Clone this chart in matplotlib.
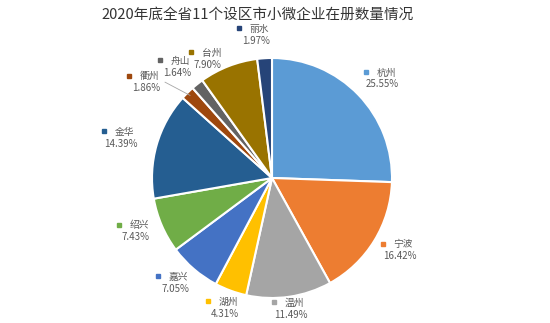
import numpy as np
import matplotlib
matplotlib.use('Agg')
import matplotlib.pyplot as plt

plt.rcParams['font.family'] = ['Noto Sans CJK SC', 'DejaVu Sans']

# 数据
cities = ['杭州', '宁波', '温州', '湖州', '嘉兴', '绍兴', '金华', '衢州', '舟山', '台州', '丽水']
shares = [25.55, 16.42, 11.49, 4.31, 7.05, 7.43, 14.39, 1.86, 1.64, 7.90, 1.97]

colors = ['#5B9BD5', '#ED7D31', '#A5A5A5', '#FFC000', '#4472C4', '#70AD47',
          '#255E91', '#9E480E', '#636363', '#997300', '#264478']

# 标签距离和角度偏移 (样式)
label_dist = [1.24, 1.22, 1.10, 1.15, 1.19, 1.22, 1.30, 1.32, 1.22, 1.13, 1.20]
label_shift = [-2, 2, 0, 0, -2, -2, 1, 8, 2, 7, 3]

W, H = 550, 323
fig = plt.figure(figsize=(W / 100, H / 100), dpi=100)
cx, cy, r = 272, 178, 120
size = 300
ax = fig.add_axes([(cx - size / 2) / W, (H - cy - size / 2) / H, size / W, size / H])
ax.set_xlim(-1.25, 1.25)
ax.set_ylim(-1.25, 1.25)
ax.axis('off')

wedges, _ = ax.pie(shares, colors=colors, startangle=90, counterclock=False,
                   radius=1, wedgeprops=dict(edgecolor='white', linewidth=1.5))

for i, w in enumerate(wedges):
    ang = (w.theta1 + w.theta2) / 2 + label_shift[i]
    d = label_dist[i]
    x = d * np.cos(np.radians(ang))
    y = d * np.sin(np.radians(ang))
    ax.text(x + 0.03, y + 0.05, cities[i], ha='center', va='center',
            fontsize=7, color='#595959')
    ax.text(x, y - 0.05, '%.2f%%' % shares[i], ha='center', va='center',
            fontsize=7, color='#595959')
    ax.plot(x - 0.14, y + 0.055, marker='s', markersize=3, color=colors[i],
            clip_on=False)
    if cities[i] == '衢州':
        mid = np.radians((w.theta1 + w.theta2) / 2)
        ax.plot([x + 0.16, 0.97 * np.cos(mid)], [y + 0.0, 0.97 * np.sin(mid)],
                color='#A6A6A6', linewidth=0.6, clip_on=False)

fig.text(258 / W, 1 - 15 / H, '2020年底全省11个设区市小微企业在册数量情况',
         ha='center', va='center', fontsize=10.5, color='#333333')

fig.savefig('out.png', dpi=100, facecolor='white')
